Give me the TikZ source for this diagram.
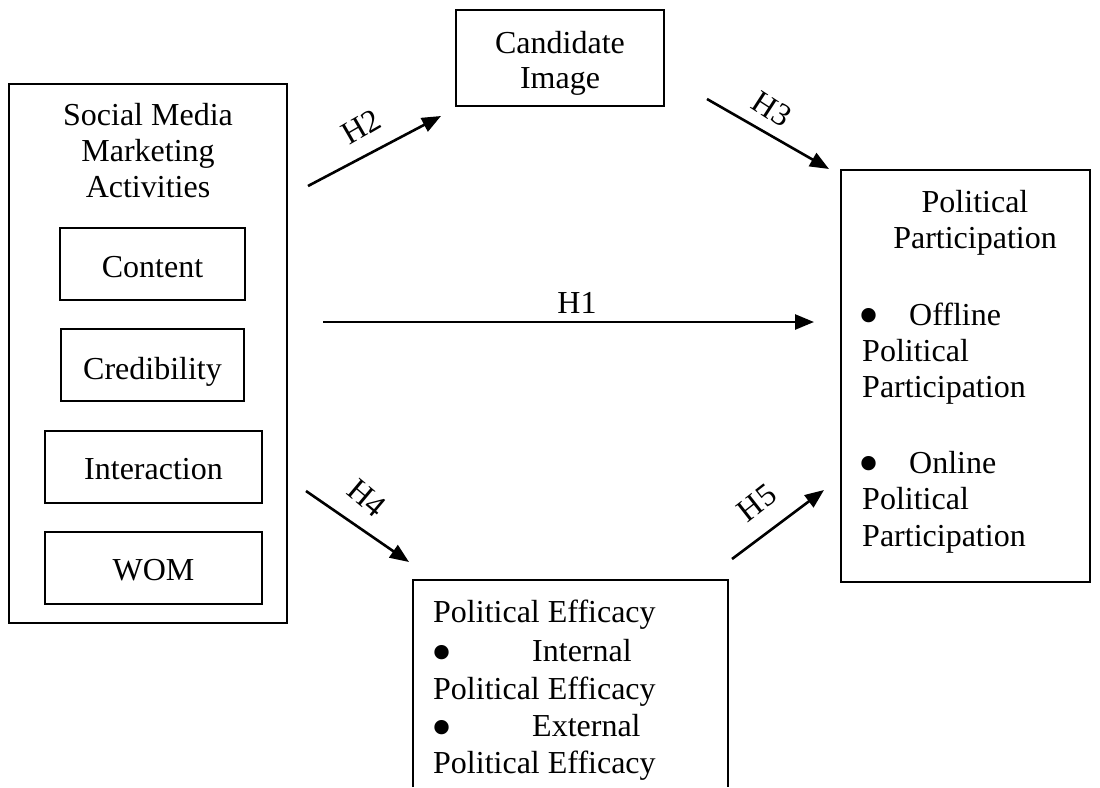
\documentclass[tikz,border=0pt]{standalone}
\usepackage{fontspec}
\setmainfont{Liberation Serif}
\usetikzlibrary{arrows.meta}
\begin{document}
\begin{tikzpicture}[x=1pt,y=-1pt,
  box/.style={draw,line width=1.6pt,inner sep=0pt},
  txt/.style={inner sep=0pt,anchor=base,font=\fontsize{32}{36}\selectfont},
  txtl/.style={txt,anchor=base west},
  bul/.style={inner sep=0pt,anchor=center,font=\fontsize{60}{60}\selectfont},
  hyp/.style={line width=2.6pt,-{Triangle[length=19pt,width=15pt]}},
  hlab/.style={inner sep=0pt,font=\fontsize{32}{36}\selectfont}]
\useasboundingbox[fill=white] (0,0) rectangle (1100,787);

% boxes
\node[box,minimum width=278pt,minimum height=539pt] (smma) at (148,353.5) {};
\node[box,minimum width=185pt,minimum height=72pt] (content) at (152.5,264) {};
\node[box,minimum width=183pt,minimum height=72pt] (cred) at (152.5,365) {};
\node[box,minimum width=217pt,minimum height=72pt] (inter) at (153.5,467) {};
\node[box,minimum width=217pt,minimum height=72pt] (wom) at (153.5,568) {};
\node[box,minimum width=208pt,minimum height=96pt] (cand) at (560,58) {};
\node[box,minimum width=249pt,minimum height=412pt] (pp) at (965.5,376) {};
\node[inner sep=0pt,minimum width=315pt,minimum height=207pt] (pe) at (570.5,683.5) {};
\draw[line width=1.6pt] (pe.south west) -- (pe.north west) -- (pe.north east) -- (pe.south east);

% left box texts
\node[txt] (t1) at (148,125) {Social Media};
\node[txt] (t2) at (148,161) {Marketing};
\node[txt] (t3) at (148,197) {Activities};
\node[txt] (tc) at (152.5,277) {Content};
\node[txt] (tcr) at (152.5,379) {Credibility};
\node[txt] (ti) at (153.5,479) {Interaction};
\node[txt] (tw) at (153.5,580) {WOM};

% candidate image
\node[txt] (ca1) at (560,53) {Candidate};
\node[txt] (ca2) at (560,88) {Image};

% political participation
\node[txt] (p1) at (975,212) {Political};
\node[txt] (p2) at (975,248) {Participation};
\node[bul] (b1) at (869,322) {•};
\node[txtl] (p3) at (909,325) {Offline};
\node[txtl] (p4) at (862,361) {Political};
\node[txtl] (p5) at (862,397) {Participation};
\node[bul] (b2) at (869,470) {•};
\node[txtl] (p6) at (909,473) {Online};
\node[txtl] (p7) at (862,509) {Political};
\node[txtl] (p8) at (862,546) {Participation};

% political efficacy
\node[txtl] (e1) at (433,622) {Political Efficacy};
\node[bul] (b3) at (442,659) {•};
\node[txtl] (e2) at (532,661) {Internal};
\node[txtl] (e3) at (433,699) {Political Efficacy};
\node[bul] (b4) at (442,734) {•};
\node[txtl] (e4) at (532,736) {External};
\node[txtl] (e5) at (433,773) {Political Efficacy};

% arrows
\coordinate (h2s) at (308,186); \coordinate (h2e) at (441,116);
\coordinate (h3s) at (707,99);  \coordinate (h3e) at (829,169);
\coordinate (h1s) at (323,322); \coordinate (h1e) at (814,322);
\coordinate (h4s) at (306,491); \coordinate (h4e) at (409,562);
\coordinate (h5s) at (732,559); \coordinate (h5e) at (824,490);
\draw[hyp] (h2s) -- (h2e);
\draw[hyp] (h3s) -- (h3e);
\draw[hyp] (h1s) -- (h1e);
\draw[hyp] (h4s) -- (h4e);
\draw[hyp] (h5s) -- (h5e);

\node[hlab,rotate=30] (l2) at (361,127) {H2};
\node[hlab,rotate=-33] (l3) at (772,109) {H3};
\node[hlab] (l1) at (577,303) {H1};
\node[hlab,rotate=-40] (l4) at (367,498) {H4};
\node[hlab,rotate=38] (l5) at (757,503) {H5};
\end{tikzpicture}
\end{document}
